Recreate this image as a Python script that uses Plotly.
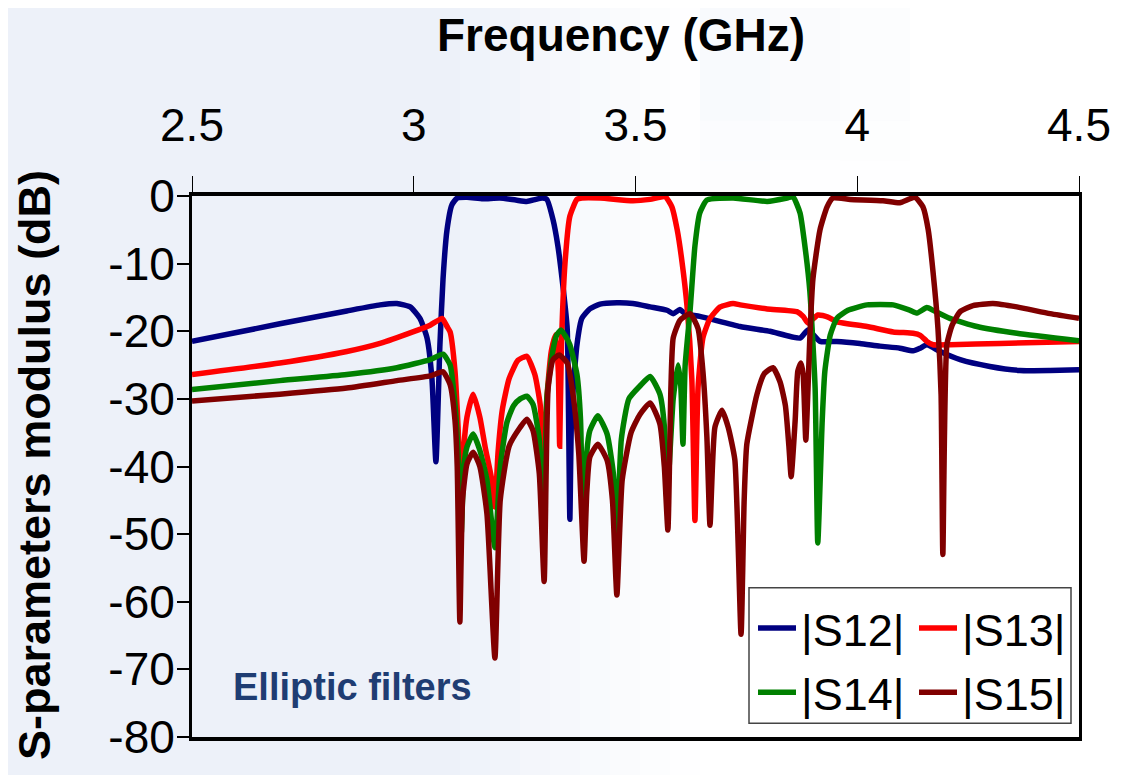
import plotly.graph_objects as go

# ---------------- data ----------------
freq_s12 = [2.500, 2.698, 2.849, 2.924, 2.962, 2.992, 3.014, 3.030, 3.041, 3.050,
            3.059, 3.066, 3.075, 3.086, 3.098, 3.120, 3.156, 3.194, 3.230, 3.255,
            3.275, 3.290, 3.300, 3.314, 3.325, 3.337, 3.346, 3.349, 3.352, 3.356,
            3.368, 3.379, 3.397, 3.420, 3.458, 3.494, 3.533, 3.571, 3.585, 3.600,
            3.612, 3.645, 3.736, 3.803, 3.871, 3.889, 3.916, 3.954, 4.006, 4.051,
            4.096, 4.126, 4.142, 4.157, 4.187, 4.232, 4.299, 4.367, 4.435, 4.500]
db_s12 = [-21.5, -18.9, -17.0, -16.1, -15.9, -16.4, -18.1, -21.0, -27.0, -39.3,
          -22.0, -12.3, -5.0, -1.3, -0.3, -0.2, -0.4, -0.3, -0.6, -0.8,
          -0.5, -0.3, -0.5, -3.5, -7.4, -13.7, -19.6, -32.0, -47.8, -32.0,
          -22.0, -18.1, -16.7, -16.0, -15.8, -15.9, -16.4, -16.9, -17.4, -16.8,
          -17.4, -17.8, -19.3, -20.0, -21.0, -19.8, -21.5, -21.5, -21.8, -22.2,
          -22.5, -22.9, -22.5, -22.0, -23.0, -24.2, -25.2, -25.8, -25.8, -25.7]

freq_s13 = [2.500, 2.698, 2.849, 2.924, 2.998, 3.037, 3.064, 3.075, 3.082, 3.093,
            3.100, 3.107, 3.113, 3.120, 3.134, 3.149, 3.161, 3.176, 3.183, 3.190,
            3.200, 3.215, 3.235, 3.255, 3.273, 3.285, 3.291, 3.294, 3.300, 3.310,
            3.320, 3.326, 3.329, 3.333, 3.341, 3.352, 3.368, 3.379, 3.420, 3.494,
            3.533, 3.567, 3.582, 3.594, 3.605, 3.616, 3.627, 3.634, 3.641, 3.652,
            3.668, 3.691, 3.720, 3.736, 3.797, 3.864, 3.878, 3.889, 3.911, 3.934,
            3.954, 4.022, 4.081, 4.126, 4.142, 4.157, 4.171, 4.209, 4.322, 4.500]
db_s13 = [-26.4, -24.7, -23.0, -21.8, -20.1, -19.1, -18.1, -19.3, -20.1, -25.9,
          -34.2, -45.0, -37.0, -32.7, -29.3, -32.7, -37.1, -42.0, -46.0, -38.0,
          -31.5, -27.0, -24.3, -23.7, -26.4, -30.8, -38.0, -45.0, -30.0, -23.0,
          -20.5, -26.0, -37.0, -22.0, -10.0, -3.0, -0.5, -0.3, -0.3, -0.7,
          -0.5, -0.1, -1.6, -5.0, -9.8, -16.2, -27.0, -48.0, -28.4, -21.0,
          -18.1, -16.4, -15.9, -16.1, -16.7, -17.1, -17.8, -18.8, -17.6, -17.9,
          -18.6, -19.3, -20.1, -20.3, -20.6, -21.5, -22.0, -22.0, -21.8, -21.5]

freq_s14 = [2.500, 2.698, 2.849, 2.962, 3.037, 3.066, 3.082, 3.093, 3.100, 3.107,
            3.113, 3.120, 3.134, 3.149, 3.165, 3.183, 3.195, 3.210, 3.225, 3.240,
            3.255, 3.269, 3.283, 3.294, 3.300, 3.312, 3.322, 3.332, 3.341, 3.352,
            3.368, 3.376, 3.382, 3.390, 3.397, 3.415, 3.436, 3.450, 3.458, 3.468,
            3.485, 3.510, 3.533, 3.555, 3.565, 3.571, 3.585, 3.596, 3.602, 3.607,
            3.612, 3.623, 3.634, 3.645, 3.661, 3.720, 3.797, 3.842, 3.855, 3.871,
            3.882, 3.893, 3.905, 3.911, 3.921, 3.927, 3.939, 3.954, 3.979, 4.022,
            4.081, 4.119, 4.135, 4.157, 4.171, 4.209, 4.270, 4.360, 4.500]
db_s14 = [-28.6, -27.3, -26.4, -25.4, -24.2, -23.4, -25.0, -30.8, -38.0, -50.0,
          -40.0, -37.1, -35.2, -37.6, -42.0, -52.0, -40.0, -33.5, -31.0, -30.0,
          -29.6, -30.8, -36.0, -50.0, -30.0, -23.5, -20.6, -19.8, -20.6, -22.0,
          -26.4, -33.0, -50.0, -38.0, -34.7, -32.5, -35.2, -41.0, -50.0, -36.0,
          -30.0, -28.1, -26.7, -29.3, -34.0, -45.0, -30.0, -25.0, -28.0, -36.7,
          -25.0, -17.0, -7.4, -2.5, -0.6, -0.3, -0.8, -0.3, -0.1, -2.5,
          -7.4, -14.0, -28.4, -51.3, -33.2, -25.9, -20.6, -18.1, -16.9, -16.1,
          -16.1, -16.9, -17.3, -16.5, -16.9, -18.1, -19.3, -20.3, -21.4]

freq_s15 = [2.500, 2.698, 2.849, 2.962, 3.037, 3.066, 3.082, 3.093, 3.098, 3.104,
            3.110, 3.120, 3.134, 3.149, 3.165, 3.183, 3.195, 3.215, 3.240, 3.255,
            3.269, 3.283, 3.294, 3.303, 3.314, 3.328, 3.346, 3.359, 3.372, 3.384,
            3.390, 3.397, 3.415, 3.436, 3.448, 3.458, 3.470, 3.490, 3.510, 3.533,
            3.555, 3.565, 3.573, 3.580, 3.585, 3.600, 3.623, 3.641, 3.652, 3.661,
            3.668, 3.679, 3.695, 3.709, 3.724, 3.738, 3.745, 3.751, 3.774, 3.790,
            3.810, 3.826, 3.838, 3.846, 3.851, 3.860, 3.866, 3.873, 3.878, 3.884,
            3.889, 3.893, 3.900, 3.916, 3.932, 3.945, 3.984, 4.058, 4.096, 4.130,
            4.148, 4.160, 4.171, 4.182, 4.189, 4.193, 4.202, 4.214, 4.232, 4.261,
            4.306, 4.360, 4.435, 4.500]
db_s15 = [-30.3, -29.3, -28.4, -27.3, -26.6, -26.0, -27.9, -33.2, -40.0, -63.0,
          -45.0, -39.6, -37.9, -40.0, -47.0, -68.3, -45.0, -37.0, -34.2, -33.0,
          -34.7, -41.0, -57.0, -28.4, -24.2, -23.5, -24.7, -29.3, -38.0, -54.0,
          -44.0, -38.6, -36.7, -39.1, -45.0, -59.0, -42.0, -35.0, -32.3, -30.6,
          -33.7, -40.0, -49.4, -28.0, -21.0, -18.4, -17.4, -19.6, -25.9, -35.7,
          -48.7, -34.2, -31.7, -34.2, -39.0, -64.8, -45.0, -36.7, -29.3, -26.3,
          -25.4, -27.5, -31.0, -37.1, -41.5, -33.2, -25.9, -24.7, -26.4, -36.1,
          -28.4, -21.0, -12.3, -5.0, -1.6, -0.3, -0.5, -0.7, -1.0, -0.2,
          -1.6, -5.0, -11.3, -19.6, -29.3, -53.0, -22.0, -19.1, -17.1, -16.2,
          -15.9, -16.4, -17.4, -18.1]

series_names = ["|S12|", "|S13|", "|S14|", "|S15|"]
series_colors = ["#000080", "#FF0000", "#008000", "#800000"]
x_ticks = [2.5, 3, 3.5, 4, 4.5]
x_ticklabels = ["2.5", "3", "3.5", "4", "4.5"]
y_ticks = [0, -10, -20, -30, -40, -50, -60, -70, -80]
y_ticklabels = ["0", "-10", "-20", "-30", "-40", "-50", "-60", "-70", "-80"]

for a, b in [(freq_s12, db_s12), (freq_s13, db_s13), (freq_s14, db_s14), (freq_s15, db_s15)]:
    assert len(a) == len(b), (len(a), len(b))

FONT = "Liberation Sans, Arial, sans-serif"

fig = go.Figure()
all_series = [(freq_s12, db_s12), (freq_s13, db_s13), (freq_s14, db_s14), (freq_s15, db_s15)]
legend_ids = ["legend", "legend", "legend2", "legend2"]
for (fx, fy), name, col, lg in zip(all_series, series_names, series_colors, legend_ids):
    fig.add_trace(go.Scatter(
        x=fx, y=fy, mode="lines", name=name, legend=lg,
        line=dict(color=col, width=5.5, shape="spline", smoothing=0.5),
    ))

# The page body has an 8px margin, so the figure starts at (8, 8) in the window.
OFF = 8
W, H = 1131 - OFF, 775 - OFF
# plot area in window pixels: x 192..1079, y 196..743
L, T = 192 - OFF, 196 - OFF
R = W - (1079 - OFF)
B = H - (743 - OFF)
pw, ph = W - L - R, H - T - B


def px_x(p):  # window pixel -> paper x
    return (p - OFF - L) / pw


def px_y(p):  # window pixel -> paper y
    return (H - B - (p - OFF)) / ph


shapes = []
# soft bluish background tint on the left (imitating the slide picture)
tint_cols = [(0, 460, 0.55), (460, 490, 0.48), (490, 520, 0.41), (520, 550, 0.34),
             (550, 580, 0.27), (580, 610, 0.2), (610, 640, 0.14), (640, 670, 0.08), (670, 700, 0.04)]
for x0, x1, a in tint_cols:
    shapes.append(dict(type="rect", xref="paper", yref="paper",
                       x0=px_x(x0), x1=px_x(x1), y0=px_y(800), y1=px_y(0),
                       fillcolor=f"rgba(222,229,244,{a})", line=dict(width=0), layer="below"))
top_cols = [(700, 770, 0.2), (770, 840, 0.14), (840, 910, 0.08)]
for x0, x1, a in top_cols:
    for y0, y1, f in [(0, 120, 1.0), (120, 160, 0.6), (160, 196, 0.3)]:
        shapes.append(dict(type="rect", xref="paper", yref="paper",
                           x0=px_x(x0), x1=px_x(x1), y0=px_y(y1), y1=px_y(y0),
                           fillcolor=f"rgba(222,229,244,{a * f:.3f})", line=dict(width=0),
                           layer="below"))
# legend box
shapes.append(dict(type="rect", xref="paper", yref="paper",
                   x0=px_x(749), x1=px_x(1071), y0=px_y(729), y1=px_y(592),
                   fillcolor="white", line=dict(color="#444444", width=1.5), layer="above"))

legend_common = dict(orientation="h", xanchor="left", yanchor="middle",
                     bgcolor="rgba(0,0,0,0)", borderwidth=0,
                     font=dict(size=45, family=FONT, color="black"),
                     itemwidth=38, entrywidth=108, entrywidthmode="pixels", itemclick=False)

fig.update_layout(
    width=W, height=H,
    margin=dict(l=L, r=R, t=T, b=B),
    paper_bgcolor="white",
    plot_bgcolor="rgba(0,0,0,0)",
    font=dict(family=FONT, color="black"),
    shapes=shapes,
    showlegend=True,
    legend=dict(x=px_x(753), y=px_y(633), **legend_common),
    legend2=dict(x=px_x(753), y=px_y(698), **legend_common),
    xaxis=dict(range=[2.5, 4.5], side="top", tickvals=x_ticks, ticktext=x_ticklabels,
               ticks="outside", ticklen=16, tickwidth=1, tickcolor="black",
               tickfont=dict(size=46, family=FONT), ticklabelstandoff=17,
               showline=True, linewidth=3.5, linecolor="black", mirror=True,
               showgrid=False, zeroline=False, fixedrange=True),
    yaxis=dict(range=[-80, 0], tickvals=y_ticks, ticktext=y_ticklabels,
               ticks="outside", ticklen=12, tickwidth=1.5, tickcolor="black",
               tickfont=dict(size=46, family=FONT), ticklabelstandoff=-7,
               showline=True, linewidth=3, linecolor="black", mirror=True,
               showgrid=False, zeroline=False, fixedrange=True),
    annotations=[
        dict(text="<b>Frequency (GHz)</b>", xref="paper", yref="paper",
             x=px_x(621), y=px_y(33), xanchor="center", yanchor="middle",
             showarrow=False, font=dict(size=46, family=FONT, color="black")),
        dict(text="<b>S-parameters modulus (dB)</b>", xref="paper", yref="paper",
             x=px_x(34), y=px_y(468), xanchor="center", yanchor="middle", textangle=-90,
             showarrow=False, font=dict(size=45, family=FONT, color="black")),
        dict(text="<b>Elliptic filters</b>", xref="paper", yref="paper",
             x=px_x(352), y=px_y(692), xanchor="center", yanchor="middle",
             showarrow=False, font=dict(size=38, family=FONT, color="#1F3D73")),
    ],
)

fig.write_html("out.html", config={"displayModeBar": False})
